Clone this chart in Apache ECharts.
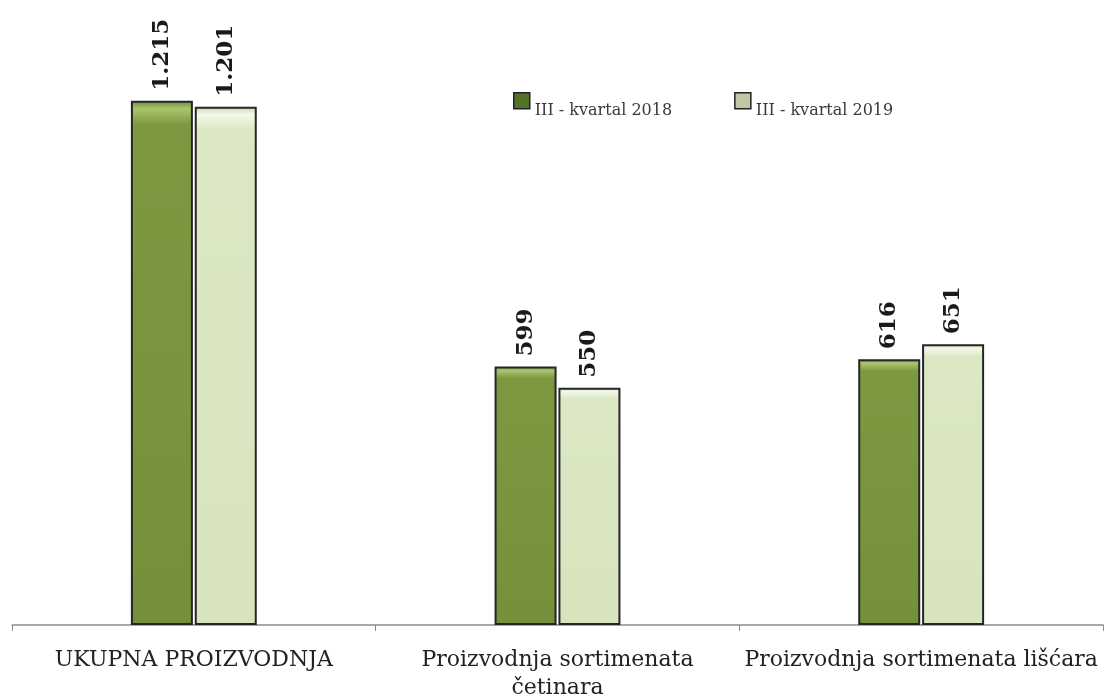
<!DOCTYPE html>
<html>
<head>
<meta charset="utf-8">
<script src="https://cdn.jsdelivr.net/npm/echarts@6/dist/echarts.min.js"></script>
<style>html,body{margin:0;padding:0;background:#fff}#c{width:1107px;height:699px}</style>
</head>
<body>
<div id="c"></div>
<script>
var categories = ['UKUPNA PROIZVODNJA', 'Proizvodnja sortimenata\nčetinara', 'Proizvodnja sortimenata lišćara'];
var seriesNames = ['III - kvartal 2018', 'III - kvartal 2019'];
var values2018 = [1215, 599, 616];
var values2019 = [1201, 550, 651];

function fmt(v) {
  return String(v).replace(/\B(?=(\d{3})+(?!\d))/g, '.');
}

var chart = echarts.init(document.getElementById('c'));
var greenFill = new echarts.graphic.LinearGradient(0, 0, 0, 1, [
  {offset: 0, color: '#6e8a34'},
  {offset: 0.015, color: '#a9c56e'},
  {offset: 0.045, color: '#7d9940'},
  {offset: 1, color: '#74903a'}
]);
var lightFill = new echarts.graphic.LinearGradient(0, 0, 0, 1, [
  {offset: 0, color: '#c9d8aa'},
  {offset: 0.015, color: '#f4f8ea'},
  {offset: 0.045, color: '#dce8c5'},
  {offset: 1, color: '#d7e4bd'}
]);
var labelStyle = {
  show: true,
  position: 'top',
  rotate: 90,
  align: 'left',
  verticalAlign: 'middle',
  distance: 10,
  fontFamily: 'DejaVu Serif',
  fontWeight: 'bold',
  fontSize: 23,
  color: '#1a1a1a',
  formatter: function (p) { return fmt(p.value); }
};
chart.setOption({
  animation: false,
  backgroundColor: '#fff',
  grid: {left: 12, right: 4, top: 21, bottom: 74, containLabel: false, outerBoundsMode: 'none'},
  legend: {
    left: 508,
    top: 87,
    itemWidth: 16,
    itemHeight: 16,
    itemGap: 62,
    icon: 'rect',
    formatter: function (name) { return '{t|' + name + '}'; },
    textStyle: {
      fontFamily: 'DejaVu Serif', fontSize: 16, color: '#3a3a3a',
      rich: {t: {fontFamily: 'DejaVu Serif', fontSize: 16, color: '#3a3a3a', padding: [20, 0, 0, 0]}}
    },
    data: [
      {name: seriesNames[0], itemStyle: {color: '#55722a', borderColor: '#222', borderWidth: 1.5}},
      {name: seriesNames[1], itemStyle: {color: '#c3c6a3', borderColor: '#222', borderWidth: 1.5}}
    ]
  },
  xAxis: {
    type: 'category',
    data: categories,
    axisLine: {lineStyle: {color: '#8c8c8c', width: 1.5}},
    axisTick: {show: true, length: 6, lineStyle: {color: '#8c8c8c'}},
    axisLabel: {
      interval: 0,
      margin: 21,
      fontFamily: 'DejaVu Serif',
      fontSize: 22,
      color: '#222',
      lineHeight: 28
    }
  },
  yAxis: {
    type: 'value',
    min: 0,
    max: 1400,
    show: false,
    splitLine: {show: false}
  },
  series: [
    {
      name: seriesNames[0],
      type: 'bar',
      data: values2018,
      barWidth: 62,
      barGap: '3%',
      itemStyle: {color: greenFill, borderColor: '#262626', borderWidth: 2},
      label: labelStyle
    },
    {
      name: seriesNames[1],
      type: 'bar',
      data: values2019,
      barWidth: 62,
      itemStyle: {color: lightFill, borderColor: '#262626', borderWidth: 2},
      label: labelStyle
    }
  ]
});
</script>
</body>
</html>
